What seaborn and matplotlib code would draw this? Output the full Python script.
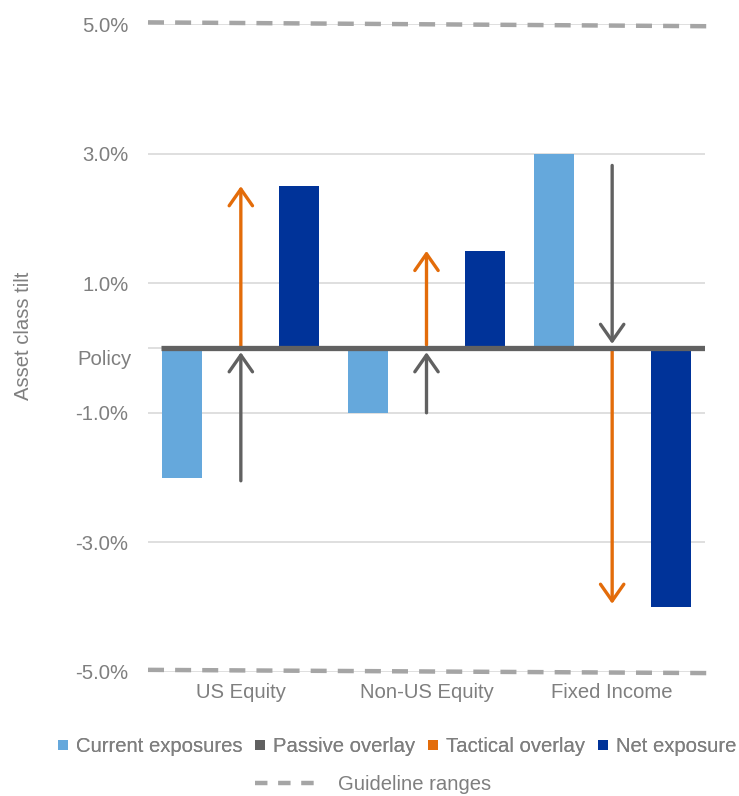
import matplotlib
matplotlib.use("Agg")
import matplotlib.pyplot as plt
from matplotlib.lines import Line2D
from matplotlib.transforms import ScaledTranslation
import seaborn as sns
import pandas as pd

# ---- data ----
categories = ["US Equity", "Non-US Equity", "Fixed Income"]
current_exposures = [-2.0, -1.0, 3.0]
net_exposure = [2.5, 1.5, -4.0]
passive_start = [-2.05, -1.0, 2.82]     # passive overlay arrows: start -> policy (0)
passive_end = [0.0, 0.0, 0.0]
tactical_start = [0.0, 0.05, 0.0]       # tactical overlay arrows: policy -> target
tactical_end = [2.5, 1.5, -3.95]
guide_upper = [5.03, 4.97]
guide_lower = [-4.97, -5.02]
ytick_values = [-5, -3, -1, 0, 1, 3, 5]
ytick_labels = ["-5.0%", "-3.0%", "-1.0%", "Policy", "1.0%", "3.0%", "5.0%"]
series_names = ["Current exposures", "Passive overlay", "Tactical overlay", "Net exposure"]
guide_name = "Guideline ranges"
ylabel = "Asset class tilt"

# ---- styles ----
C_CUR = "#65A8DC"
C_PAS = "#616161"
C_TAC = "#E36C0A"
C_NET = "#003399"
C_GUIDE = "#A5A5A5"
C_GRID = "#D9D9D9"
C_TXT = "#7F7F7F"
FS = 14.6

sns.set_theme(style="white")
plt.rcParams["font.family"] = ["Liberation Sans", "DejaVu Sans"]

fig = plt.figure(figsize=(7.39, 7.96), dpi=100)
ax = fig.add_axes([148 / 739, 1 - 671.8 / 796, 557 / 739, 647.5 / 796])

df = pd.DataFrame({
    "category": categories * 2,
    "series": ["Current exposures"] * 3 + ["Net exposure"] * 3,
    "value": current_exposures + net_exposure,
})
sns.barplot(data=df, x="category", y="value", hue="series",
            hue_order=["Current exposures", "Net exposure"],
            palette={"Current exposures": C_CUR, "Net exposure": C_NET},
            width=1.26, gap=0.66, order=categories, legend=False,
            linewidth=0, ax=ax, zorder=3, saturation=1)

# arrows
astyle = "->,head_length=0.6,head_width=0.42"
for i in range(len(categories)):
    ax.annotate("", xy=(i, passive_end[i]), xytext=(i, passive_start[i]),
                arrowprops=dict(arrowstyle=astyle, color=C_PAS, lw=2.4,
                                shrinkA=0, shrinkB=3, mutation_scale=20), zorder=4)
    ax.annotate("", xy=(i, tactical_end[i]), xytext=(i, tactical_start[i]),
                arrowprops=dict(arrowstyle=astyle, color=C_TAC, lw=2.4,
                                shrinkA=0, shrinkB=0, mutation_scale=20), zorder=4)

# policy line
ax.axhline(0, xmin=13 / 557, xmax=1, color=C_PAS, lw=3.8, zorder=5, solid_capstyle="butt")

# guideline ranges
gx = [-0.5, len(categories) - 0.48]
for g in (guide_upper, guide_lower):
    ax.plot(gx, g, color=C_GUIDE, lw=3.2, dashes=(3.6, 2.5), clip_on=False, zorder=6,
            dash_capstyle="butt")

ax.set_xlim(-0.5, len(categories) - 0.5)
ax.set_ylim(-5, 5)
ax.set_yticks(ytick_values)
ax.set_yticklabels(ytick_labels)
ax.yaxis.grid(True, color=C_GRID, lw=1.2, zorder=0)
ax.xaxis.grid(False)
ax.set_axisbelow(True)
for s in ax.spines.values():
    s.set_visible(False)
ax.tick_params(axis="y", length=0, pad=14, labelsize=FS, labelcolor=C_TXT)
ax.tick_params(axis="x", length=0, pad=8, labelsize=FS, labelcolor=C_TXT)
ax.set_xlabel("")
ax.set_ylabel(ylabel, fontsize=FS, color=C_TXT, va="center")
ax.yaxis.set_label_coords((24 - 148) / 557, (671.8 - 336) / 647.5)

# shift "Policy" label slightly down
for t in ax.get_yticklabels():
    if t.get_text() == "Policy":
        t.set_transform(t.get_transform() + ScaledTranslation(3 / 100, -9 / 100, fig.dpi_scale_trans))

# legends
handles = [Line2D([], [], ls="", marker="s", markersize=7.3, color=c, markeredgewidth=0)
           for c in (C_CUR, C_PAS, C_TAC, C_NET)]
leg1 = fig.legend(handles, series_names, loc="center", ncol=4,
                  bbox_to_anchor=(396 / 739, 1 - 747 / 796), frameon=False,
                  fontsize=FS, labelcolor=C_TXT, handlelength=0.7, handletextpad=0.27,
                  columnspacing=0.55, borderpad=0, borderaxespad=0)
gh = Line2D([], [], color=C_GUIDE, lw=3.2, dashes=(2.8, 2.4), dash_capstyle="butt")
leg2 = fig.legend([gh], [guide_name], loc="center",
                  bbox_to_anchor=(373 / 739, 1 - 785 / 796), frameon=False,
                  fontsize=FS, labelcolor=C_TXT, handlelength=3.3, handletextpad=0.8,
                  borderpad=0, borderaxespad=0)
fig.add_artist(leg1)

fig.savefig("out.png", dpi=100)
